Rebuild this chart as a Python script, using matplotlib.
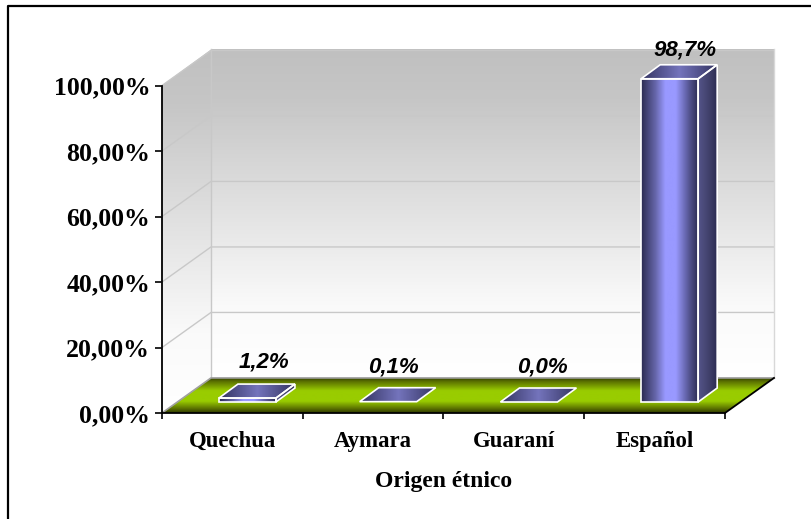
import numpy as np
import matplotlib
matplotlib.use("Agg")
import matplotlib.pyplot as plt
from matplotlib.colors import LinearSegmentedColormap
from matplotlib.patches import Polygon, Rectangle

categories = ["Quechua", "Aymara", "Guaraní", "Español"]
values = [1.2, 0.1, 0.0, 98.7]
value_labels = ["1,2%", "0,1%", "0,0%", "98,7%"]
y_ticks = [0, 20, 40, 60, 80, 100]
y_tick_labels = ["0,00%", "20,00%", "40,00%", "60,00%", "80,00%", "100,00%"]

# oblique projection, in data units
wall_dx, wall_dy, wall_top = 0.348, 10.7, 111.0
bar_dx, bar_dy = 0.135, 4.27
bar_shift, bar_width, bar_base = 0.107, 0.405, 3.36


def shade(ax, verts, colors, horizontal=True, z=1):
    # gradient image clipped to a polygon
    verts = np.array(verts)
    x0, y0 = verts.min(axis=0)
    x1, y1 = verts.max(axis=0)
    cmap = LinearSegmentedColormap.from_list("g", colors)
    grad = np.linspace(0, 1, 256)
    grad = grad.reshape(1, -1) if horizontal else grad.reshape(-1, 1)
    im = ax.imshow(grad, cmap=cmap, extent=(x0, x1, y1, y0), origin="upper",
                   aspect="auto", zorder=z)
    im.set_clip_box(fig.bbox)
    im.set_clip_path(Polygon(verts, closed=True, transform=ax.transData))


fig = plt.figure(figsize=(8.12, 5.19), dpi=100)
ax = fig.add_axes([162 / 812, 1 - 413 / 519, 563 / 812, 327.5 / 519])
ax.patch.set_visible(False)

# outer chart frame, only top and left are visible in the picture
fig.add_artist(plt.Line2D([8 / 812, 8 / 812, 1], [0, 1 - 6 / 519, 1 - 6 / 519],
                          color="black", lw=1.6))

# walls
wall_colors = [(0, "#ffffff"), (0.22, "#fafafa"), (0.85, "#c6c6c6"), (1, "#c0c0c0")]
shade(ax, [(wall_dx, wall_dy), (4 + wall_dx, wall_dy), (4 + wall_dx, wall_top), (wall_dx, wall_top)],
      wall_colors, horizontal=False, z=1)
shade(ax, [(0, 0), (wall_dx, wall_dy), (wall_dx, wall_top), (0, 100)],
      wall_colors, horizontal=False, z=1)

for v in y_ticks[1:]:
    ax.plot([0, wall_dx, 4 + wall_dx], [v, v + wall_dy, v + wall_dy], color="#c8c8c8",
            lw=1, zorder=2, clip_on=False)
ax.plot([wall_dx, wall_dx], [wall_dy, wall_top], color="#c8c8c8", lw=1, zorder=2, clip_on=False)
ax.plot([4 + wall_dx, 4 + wall_dx], [wall_dy, wall_top], color="#d8d8d8", lw=1, zorder=2, clip_on=False)

# floor
floor = [(0, 0), (4, 0), (4 + wall_dx, wall_dy), (wall_dx, wall_dy)]
floor_colors = [(0, "#2c3600"), (0.12, "#5a7000"), (0.33, "#99cc00"), (0.62, "#99cc00"),
                (0.88, "#5a7000"), (1, "#2c3600")]
shade(ax, floor, floor_colors, horizontal=False, z=3)
ax.plot([0, wall_dx, 4 + wall_dx], [0, wall_dy, wall_dy], color="#a0a0a0", lw=1.2, zorder=4, clip_on=False)
ax.plot([4, 4 + wall_dx], [0, wall_dy], color="black", lw=1.3, zorder=4, clip_on=False)

# bars
front_colors = [(0, "#2a2a50"), (0.25, "#6666aa"), (0.42, "#9999ff"), (0.6, "#9999ff"), (0.85, "#50508a"), (1, "#2a2a50")]
side_colors = [(0, "#55558a"), (0.5, "#43436e"), (1, "#2a2a50")]
top_colors = [(0, "#333360"), (0.5, "#7474bc"), (1, "#333360")]
label_off = [(7.5, 22), (-4, 21), (3.7, 21), (5.7, 15)]

for i, v in enumerate(values):
    x0 = i + 0.5 + bar_shift - bar_width / 2
    x1 = x0 + bar_width
    y0, y1 = bar_base, bar_base + v
    top = [(x0, y1), (x1, y1), (x1 + bar_dx, y1 + bar_dy), (x0 + bar_dx, y1 + bar_dy)]
    shade(ax, top, top_colors, z=5)
    ax.add_patch(Polygon(top, closed=True, fc="none", ec="white", lw=1.2, zorder=7, clip_on=False))
    if v >= 0.5:
        side = [(x1, y0), (x1 + bar_dx, y0 + bar_dy), (x1 + bar_dx, y1 + bar_dy), (x1, y1)]
        shade(ax, side, side_colors, z=5)
        ax.add_patch(Polygon(side, closed=True, fc="none", ec="white", lw=1.2, zorder=7, clip_on=False))
        shade(ax, [(x0, y0), (x1, y0), (x1, y1), (x0, y1)], front_colors, z=6)
        ax.add_patch(Rectangle((x0, y0), bar_width, v, fc="none", ec="white", lw=1.2, zorder=7, clip_on=False))
    ax.annotate(value_labels[i], xy=(x0 + bar_width / 2 + bar_dx / 2, y1 + bar_dy),
                xytext=label_off[i], textcoords="offset pixels", ha="center", va="center",
                family="Liberation Sans", fontweight="bold", style="italic", fontsize=16,
                color="black", zorder=9, annotation_clip=False)

ax.set_xlim(0, 4)
ax.set_ylim(0, 100)
for name in ["top", "right"]:
    ax.spines[name].set_visible(False)
for name in ["left", "bottom"]:
    ax.spines[name].set_linewidth(1.3)
    ax.spines[name].set_zorder(8)

ax.set_yticks(y_ticks)
ax.set_yticklabels(y_tick_labels, family="Liberation Serif", fontweight="bold", fontsize=18.5)
ax.tick_params(axis="y", length=5, width=1.2, pad=3.5)

ax.set_xticks(range(5))
ax.set_xticklabels([])
ax.set_xticks([i + 0.5 for i in range(4)], minor=True)
ax.set_xticklabels(categories, minor=True, family="Liberation Serif", fontweight="bold", fontsize=16.4)
ax.tick_params(axis="x", which="major", length=4, width=1.2)
ax.tick_params(axis="x", which="minor", length=0, pad=13)

ax.set_xlabel("Origen étnico", family="Liberation Serif", fontweight="bold", fontsize=17, labelpad=14)

fig.savefig("out.png", dpi=100, facecolor="white")
